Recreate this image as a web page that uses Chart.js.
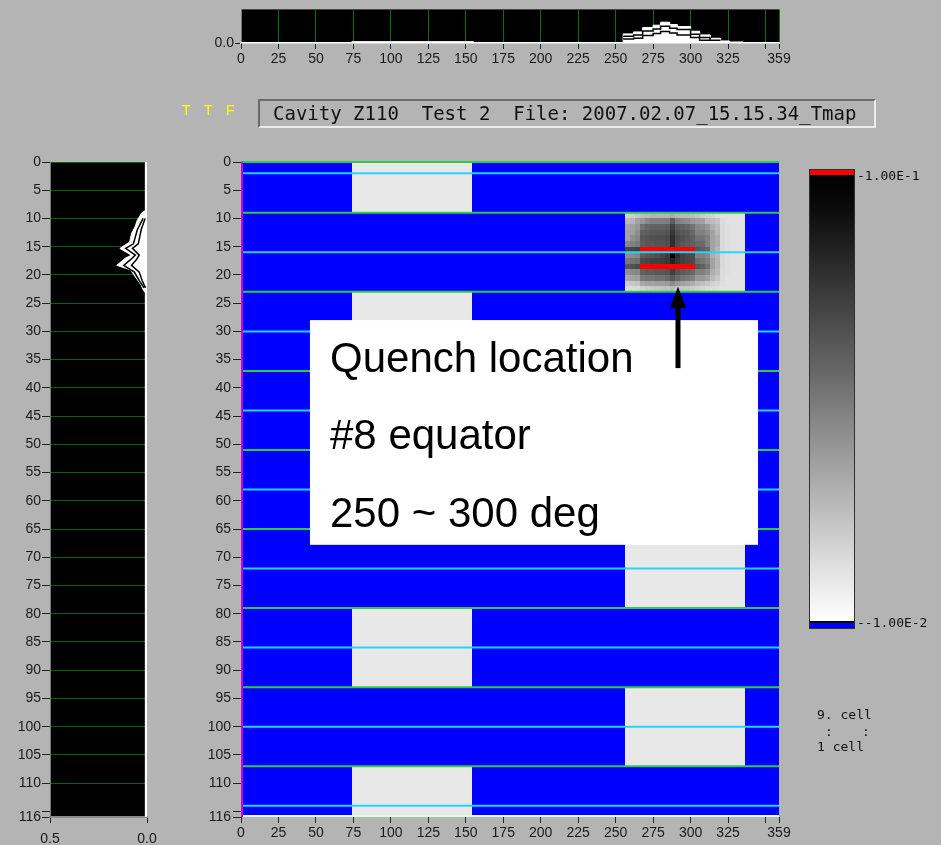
<!DOCTYPE html>
<html>
<head>
<meta charset="utf-8">
<script src="https://cdn.jsdelivr.net/npm/chart.js@4/dist/chart.umd.min.js"></script>
<style>
    body { margin: 0; width: 941px; height: 845px; background: #b4b4b4; position: relative; overflow: hidden; font-family: "Liberation Sans", sans-serif; }
    canvas { position: absolute; left: 0; top: 0; }
    .txt { position: absolute; white-space: nowrap; }
    .mono { font-family: "DejaVu Sans Mono", monospace; color: #111; }
    #ttf { left: 182px; top: 102px; font-size: 14px; letter-spacing: 5px; color: #ffff00; }
    #titleBox { position: absolute; left: 258px; top: 99px; width: 618px; height: 29px; box-sizing: border-box;
        border-top: 2px solid #6a6a6a; border-left: 2px solid #6a6a6a; border-bottom: 2px solid #ececec; border-right: 2px solid #ececec;
        font: 19px "DejaVu Sans Mono", monospace; line-height: 25px; padding-left: 13px; color: #111; white-space: pre; }
    #cbar { position: absolute; left: 809px; top: 169px; width: 46px; height: 460px; box-sizing: border-box; border: 1px solid #303030;
        display: flex; flex-direction: column; }
    #cbar .red { height: 5px; background: #ff0000; }
    #cbar .ramp { flex: 1; background: linear-gradient(#000 0%, #0c0c0c 8%, #6a6a6a 45%, #d8d8d8 85%, #fff 100%); }
    #cbar .line { height: 2px; background: #000; }
    #cbar .blue { height: 5px; background: #0000ff; }
    .note { position: absolute; left: 330px; font-size: 42px; line-height: 42px; color: #000; white-space: nowrap; }
</style>
</head>
<body>
<canvas id="topStrip" width="941" height="845"></canvas>
<canvas id="sideStrip" width="941" height="845"></canvas>
<canvas id="tmap" width="941" height="845"></canvas>

<div class="txt" id="ttf">T T F</div>
<div id="titleBox">Cavity Z110  Test 2  File: 2007.02.07_15.15.34_Tmap</div>

<div id="cbar"><div class="red"></div><div class="ramp"></div><div class="line"></div><div class="blue"></div></div>
<div class="txt mono" id="cbTop" style="left:857px; top:168px; font-size:13px;"></div>
<div class="txt mono" id="cbBottom" style="left:857px; top:615px; font-size:13px;"></div>
<div class="txt mono" style="left:817px; top:707px; font-size:13px;">9. cell</div>
<div class="txt mono" style="left:825px; top:724px; font-size:13px;">:</div>
<div class="txt mono" style="left:862px; top:724px; font-size:13px;">:</div>
<div class="txt mono" style="left:817px; top:739px; font-size:13px;">1 cell</div>

<div class="note" style="top:337px;">Quench location</div>
<div class="note" style="top:414px;">#8 equator</div>
<div class="note" style="top:492px;">250 ~ 300 deg</div>

<script>
// axis ticks (350 and 115 get a tick mark but no label)
const angleTicks = [0, 25, 50, 75, 100, 125, 150, 175, 200, 225, 250, 275, 300, 325, 350, 359];
const zTicks = [0, 5, 10, 15, 20, 25, 30, 35, 40, 45, 50, 55, 60, 65, 70, 75, 80, 85, 90, 95, 100, 105, 110, 115, 116];
const sideTicks = [0.5, 0.0];
const colorbarLabels = ['-1.00E-1', '--1.00E-2'];

// cells: z edges (cell 9 at top, cell 1 at bottom) and the lit angle range per cell
const cellEdges = [0, 9, 23, 37, 51, 65, 79, 93, 107, 116];
const cellLit = [[74, 154], [256, 336], [74, 154], [256, 336], [74, 154], [256, 336], [74, 154], [256, 336], [74, 154]];
const irisLines = [0, 9, 23, 37, 51, 65, 79, 93, 107];
const equatorLines = [2, 16, 30, 44, 58, 72, 86, 100, 114];

// quench spot in cell 8: 14 rows (z 9..23) x 24 columns (256..336 deg), 0 = light, 1 = black, 2 = over range
const quenchAngles = [256, 336];
const quenchZ = [9, 23];
const quench = [
    [.10, .12, .15, .18, .20, .22, .22, .22, .22, .26, .22, .20, .20, .18, .15, .12, .10, .08, .05, .03, .03, .03, .03, .03],
    [.20, .22, .30, .35, .42, .45, .45, .45, .46, .60, .45, .42, .40, .35, .32, .30, .20, .18, .15, .05, .03, .03, .03, .03],
    [.28, .30, .35, .52, .56, .58, .58, .58, .60, .72, .60, .58, .55, .50, .42, .40, .35, .25, .20, .06, .04, .03, .03, .03],
    [.30, .32, .38, .58, .60, .62, .62, .62, .64, .76, .64, .62, .60, .55, .45, .45, .40, .30, .22, .06, .04, .03, .03, .03],
    [.30, .38, .42, .62, .64, .66, .66, .66, .68, .80, .68, .65, .62, .58, .50, .50, .45, .30, .25, .06, .04, .03, .03, .03],
    [.42, .45, .48, .60, .62, .62, .64, .64, .66, .80, .66, .62, .60, .58, .55, .55, .45, .30, .25, .06, .04, .03, .03, .03],
    [.68, .70, .72, 2, 2, 2, 2, 2, 2, 2, 2, 2, 2, 2, .62, .60, .55, .30, .22, .06, .04, .03, .03, .03],
    [.38, .40, .42, .60, .62, .64, .66, .70, .75, 1.0, .80, .72, .70, .68, .45, .45, .40, .25, .20, .06, .04, .03, .03, .03],
    [.48, .50, .52, .68, .70, .72, .72, .74, .76, .85, .76, .72, .70, .68, .52, .50, .45, .30, .22, .06, .04, .03, .03, .03],
    [.62, .65, .68, 2, 2, 2, 2, 2, 2, 2, 2, 2, 2, 2, .62, .58, .50, .30, .22, .06, .04, .03, .03, .03],
    [.38, .40, .42, .58, .60, .60, .62, .62, .64, .72, .64, .60, .58, .55, .45, .45, .40, .25, .20, .05, .04, .03, .03, .03],
    [.28, .30, .32, .48, .50, .50, .52, .52, .55, .62, .55, .50, .48, .45, .35, .35, .30, .20, .15, .05, .03, .03, .03, .03],
    [.12, .14, .16, .28, .30, .30, .32, .32, .34, .40, .34, .30, .28, .25, .20, .18, .15, .10, .08, .04, .03, .03, .03, .03],
    [.05, .05, .06, .10, .12, .14, .15, .16, .16, .20, .16, .15, .14, .12, .10, .08, .06, .05, .04, .03, .03, .03, .03, .03]
];

// top projection (per angle bin)
const topBins = [0, 74, 155, 255, 262, 268, 275, 280, 286, 291, 300, 306, 313, 320, 326, 335, 359];
const topMax = [0.01, 0.04, 0.01, 0.27, 0.33, 0.46, 0.53, 0.62, 0.55, 0.49, 0.35, 0.24, 0.14, 0.06, 0.03, 0.01];
const topInner1 = [null, null, null, 0.20, 0.24, 0.36, 0.42, 0.50, 0.44, 0.40, 0.26, 0.16, 0.08, null, null, null];
const topInner2 = [null, null, null, 0.12, 0.14, 0.22, 0.28, 0.34, 0.30, 0.24, 0.16, 0.08, null, null, null, null];

// side projection (per z)
const sideZ = [0, 8.6, 9, 10.3, 11.5, 12.6, 14.2, 15.3, 16.5, 17, 18.3, 19.1, 20.6, 21.8, 22.6, 23.2, 116];
const sideMax = [0.008, 0.008, 0.027, 0.05, 0.062, 0.079, 0.09, 0.14, 0.08, 0.11, 0.156, 0.085, 0.055, 0.03, 0.02, 0.008, 0.008];
const sideInnerZ = [10, 12, 14.5, 15.3, 16.5, 17.3, 18.3, 19.5, 21, 22.3];
const sideInner1 = [0.02, 0.05, 0.07, 0.11, 0.06, 0.085, 0.12, 0.065, 0.04, 0.015];
const sideInner2 = [0.01, 0.03, 0.045, 0.075, 0.04, 0.055, 0.08, 0.04, 0.025, 0.008];

// annotation, in data units of the map
const noteBox = { angles: [46, 345], z: [28, 67.8] };
const arrow = { angle: 291.6, tail: 36.5, base: 25.9, tip: 22.1, halfWidth: 5.5 };

document.getElementById('cbTop').textContent = colorbarLabels[0];
document.getElementById('cbBottom').textContent = colorbarLabels[1];

Chart.defaults.font.family = 'Liberation Sans';
Chart.defaults.font.size = 14;
Chart.defaults.color = '#1a1a1a';
Chart.defaults.animation = false;
Chart.defaults.responsive = false;
Chart.defaults.plugins.legend.display = false;
Chart.defaults.plugins.tooltip.enabled = false;

function steps(bins, vals) {
    const pts = [];
    vals.forEach((v, i) => {
        if (v === null) { pts.push({ x: bins[i], y: null }); return; }
        pts.push({ x: bins[i], y: v }, { x: bins[i + 1], y: v });
    });
    return pts;
}

function fixTicks(list) {
    return (scale) => { scale.ticks = list.map(v => ({ value: v })); };
}

const hideLabel = (v) => (v === 350 || v === 115) ? '' : v;

const blackArea = {
    id: 'blackArea',
    beforeDraw(chart) {
        const { ctx, chartArea: a } = chart;
        ctx.save();
        ctx.fillStyle = '#000';
        ctx.fillRect(a.left, a.top, a.width, a.height);
        ctx.restore();
    }
};

// ---------- top strip ----------
// lower "order" is drawn on top, so the black inner outlines sit over the white fill
new Chart(document.getElementById('topStrip'), {
    type: 'line',
    data: {
        datasets: [
            { data: steps(topBins, topInner1), borderColor: '#000', borderWidth: 1.5, fill: false, pointRadius: 0, order: 0 },
            { data: steps(topBins, topInner2), borderColor: '#000', borderWidth: 1.5, fill: false, pointRadius: 0, order: 0 },
            { data: steps(topBins, topMax), borderColor: '#fff', backgroundColor: '#fff', borderWidth: 1, fill: 'origin', pointRadius: 0, order: 1 }
        ]
    },
    options: {
        layout: { padding: { left: 201, right: 162, top: 6, bottom: 780 } },
        scales: {
            x: {
                type: 'linear', min: 0, max: 359,
                afterBuildTicks: fixTicks(angleTicks),
                afterFit: (s) => { s.height = 22; },
                ticks: { autoSkip: false, maxRotation: 0, padding: 2, callback: hideLabel },
                grid: { color: '#007400', tickColor: '#222', tickLength: 6, lineWidth: 1 },
                border: { color: '#d4d4d4', width: 2 }
            },
            y: {
                min: 0, max: 1,
                afterBuildTicks: fixTicks([0]),
                afterFit: (s) => { s.width = 40; },
                ticks: { padding: 1, callback: (v) => v.toFixed(1) },
                grid: { drawOnChartArea: false, tickColor: '#222', tickLength: 6 },
                border: { color: '#777' }
            }
        }
    },
    plugins: [blackArea]
});

// ---------- side strip ----------
new Chart(document.getElementById('sideStrip'), {
    type: 'line',
    data: {
        datasets: [
            { data: sideInnerZ.map((z, i) => ({ x: sideInner1[i], y: z })), borderColor: '#000', borderWidth: 1.5, fill: false, pointRadius: 0, order: 0 },
            { data: sideInnerZ.map((z, i) => ({ x: sideInner2[i], y: z })), borderColor: '#000', borderWidth: 1.5, fill: false, pointRadius: 0, order: 0 },
            { data: sideZ.map((z, i) => ({ x: sideMax[i], y: z })), borderColor: '#fff', backgroundColor: '#fff', borderWidth: 1, fill: 'origin', pointRadius: 0, order: 1 }
        ]
    },
    options: {
        indexAxis: 'y',
        layout: { padding: { left: 5, right: 794, top: 162, bottom: 0 } },
        scales: {
            x: {
                type: 'linear', min: 0, max: 0.5, reverse: true,
                afterBuildTicks: fixTicks(sideTicks),
                afterFit: (s) => { s.height = 28; },
                ticks: { autoSkip: false, maxRotation: 0, padding: 8, callback: (v) => v.toFixed(1) },
                grid: { drawOnChartArea: false, tickColor: '#222', tickLength: 6 },
                border: { color: '#8a8a8a', width: 2 }
            },
            y: {
                type: 'linear', min: 0, max: 116, reverse: true,
                afterBuildTicks: fixTicks(zTicks),
                afterFit: (s) => { s.width = 45; },
                ticks: { autoSkip: false, padding: 1, callback: hideLabel },
                grid: {
                    color: (c) => c.tick && c.tick.value === 115 ? 'rgba(0,0,0,0)' : '#006a00',
                    tickColor: '#222', tickLength: 8, lineWidth: 1
                },
                border: { color: '#777' }
            }
        }
    },
    plugins: [blackArea]
});

// ---------- temperature map ----------
function gray(v) {
    const g = Math.round(232 * (1 - v));
    return 'rgb(' + g + ',' + g + ',' + g + ')';
}

const tmapPlugin = {
    id: 'tmap',
    beforeDatasetsDraw(chart) {
        const { ctx, chartArea: a, scales: { x, y } } = chart;
        const px = (v) => Math.round(x.getPixelForValue(v));
        const py = (v) => Math.round(y.getPixelForValue(v));
        ctx.save();
        ctx.fillStyle = '#0000ff';
        ctx.fillRect(a.left, a.top, a.width, a.height);

        ctx.fillStyle = '#e8e8e8';
        cellLit.forEach((r, i) => {
            ctx.fillRect(px(r[0]), py(cellEdges[i]), px(r[1]) - px(r[0]), py(cellEdges[i + 1]) - py(cellEdges[i]));
        });

        const nr = quench.length, nc = quench[0].length;
        const da = (quenchAngles[1] - quenchAngles[0]) / nc;
        const dz = (quenchZ[1] - quenchZ[0]) / nr;
        quench.forEach((row, r) => row.forEach((v, c) => {
            const x0 = px(quenchAngles[0] + c * da), x1 = px(quenchAngles[0] + (c + 1) * da);
            const y0 = py(quenchZ[0] + r * dz), y1 = py(quenchZ[0] + (r + 1) * dz);
            ctx.fillStyle = v > 1 ? '#ff0000' : gray(v);
            ctx.fillRect(x0, y0, x1 - x0, y1 - y0);
        }));

        const hline = (list, color) => {
            ctx.strokeStyle = color;
            ctx.lineWidth = 2;
            list.forEach((z) => {
                const yy = y.getPixelForValue(z);
                ctx.beginPath();
                ctx.moveTo(a.left, yy);
                ctx.lineTo(a.right, yy);
                ctx.stroke();
            });
        };
        hline(irisLines, '#2ccc44');
        hline(equatorLines, '#26d4ff');

        ctx.fillStyle = '#e0ffe0';
        ctx.fillRect(a.left, a.bottom - 2, a.width, 2);
        ctx.fillStyle = '#cc00cc';
        ctx.fillRect(a.left, a.top, 2, a.height);
        ctx.restore();
    },
    afterDraw(chart) {
        const { ctx, scales: { x, y } } = chart;
        ctx.save();
        const bx0 = x.getPixelForValue(noteBox.angles[0]), bx1 = x.getPixelForValue(noteBox.angles[1]);
        const by0 = y.getPixelForValue(noteBox.z[0]), by1 = y.getPixelForValue(noteBox.z[1]);
        ctx.fillStyle = '#fff';
        ctx.fillRect(bx0, by0, bx1 - bx0, by1 - by0);

        const ax = x.getPixelForValue(arrow.angle);
        const hw = x.getPixelForValue(arrow.angle + arrow.halfWidth) - ax;
        ctx.fillStyle = '#000';
        ctx.fillRect(ax - 2.5, y.getPixelForValue(arrow.base) - 1, 5, y.getPixelForValue(arrow.tail) - y.getPixelForValue(arrow.base) + 1);
        ctx.beginPath();
        ctx.moveTo(ax, y.getPixelForValue(arrow.tip));
        ctx.lineTo(ax + hw, y.getPixelForValue(arrow.base));
        ctx.lineTo(ax - hw, y.getPixelForValue(arrow.base));
        ctx.closePath();
        ctx.fill();
        ctx.restore();
    }
};

new Chart(document.getElementById('tmap'), {
    type: 'line',
    data: { datasets: [] },
    options: {
        layout: { padding: { left: 201, right: 162, top: 162, bottom: 0 } },
        scales: {
            x: {
                type: 'linear', min: 0, max: 359,
                afterBuildTicks: fixTicks(angleTicks),
                afterFit: (s) => { s.height = 28; },
                ticks: { autoSkip: false, maxRotation: 0, padding: 2, callback: hideLabel },
                grid: { drawOnChartArea: false, tickColor: '#222', tickLength: 6 },
                border: { display: false }
            },
            y: {
                type: 'linear', min: 0, max: 116, reverse: true,
                afterBuildTicks: fixTicks(zTicks),
                afterFit: (s) => { s.width = 40; },
                ticks: { autoSkip: false, padding: 2, callback: hideLabel },
                grid: { drawOnChartArea: false, tickColor: '#222', tickLength: 8 },
                border: { display: false }
            }
        }
    },
    plugins: [tmapPlugin]
});
</script>
</body>
</html>
